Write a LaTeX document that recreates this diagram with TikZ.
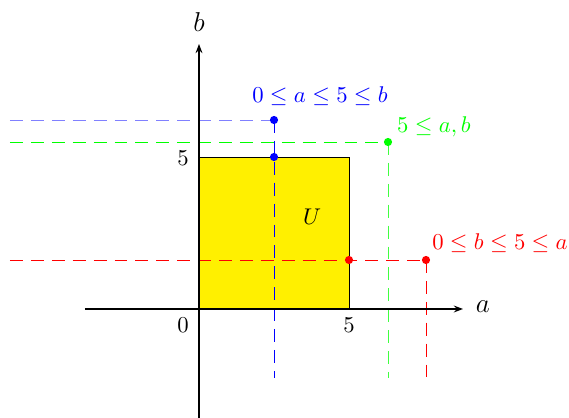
\documentclass[tikz,border=0pt]{standalone}
\usetikzlibrary{arrows.meta}
\definecolor{uyellow}{RGB}{255,240,0}
\tikzset{
  px/.style={x=0.44pt,y=-0.44pt},
  guide/.style={line width=0.4pt,dash pattern=on 5.7pt off 3.5pt},
  axis/.style={line width=0.8pt,-{Stealth[length=4pt,width=3pt]}},
  dot/.style={circle,inner sep=0pt,minimum size=3.6pt},
  lbl/.style={inner sep=1pt}
}
\begin{document}
\begin{tikzpicture}[px]
\useasboundingbox (0,0) rectangle (569,418);
% key points
\coordinate (O) at (199,309);
\coordinate (R) at (349,157);
\coordinate (Bt) at (274,120);
\coordinate (Bm) at (274,157);
\coordinate (Bb) at (274,378);
\coordinate (Bl) at (10,120);
\coordinate (Gt) at (388,142);
\coordinate (Gb) at (388,378);
\coordinate (Gl) at (10,142);
\coordinate (Rt) at (426,260);
\coordinate (Rm) at (349,260);
\coordinate (Rb) at (426,378);
\coordinate (Rl) at (10,260);
\coordinate (xs) at (85,309);
\coordinate (xe) at (463,309);
\coordinate (ys) at (199,418);
\coordinate (ye) at (199,44);
% square
\draw[fill=uyellow,draw=black,line width=0.4pt] (O) rectangle (R);
% guide lines
\draw[guide,blue!50] (Bl) -- (Bt);
\draw[guide,blue] (Bt) -- (Bb);
\draw[guide,green] (Gl) -- (Gt);
\draw[guide,green!75!white] (Gt) -- (Gb);
\draw[guide,red] (Rl) -- (Rt);
\draw[guide,red] (Rt) -- (Rb);
% axes
\draw[axis] (xs) -- (xe);
\draw[axis] (ys) -- (ye);
% dots
\node[dot,fill=blue] (dBt) at (Bt) {};
\node[dot,fill=blue] (dBm) at (Bm) {};
\node[dot,fill=green] (dGt) at (Gt) {};
\node[dot,fill=red] (dRt) at (Rt) {};
\node[dot,fill=red] (dRm) at (Rm) {};
% labels
\node[lbl,font=\large] (lb) at (199,22) {$b$};
\node[lbl,font=\large] (la) at (483,307) {$a$};
\node[lbl] (l0) at (183,325) {$0$};
\node[lbl] (l5x) at (349,325) {$5$};
\node[lbl] (l5y) at (183,158) {$5$};
\node[lbl] (lU) at (312,217) {$U$};
\node[lbl,text=blue] (lblue) at (320,96) {$0\le a\le 5\le b$};
\node[lbl,text=green] (lgreen) at (434,127) {$5\le a, b$};
\node[lbl,text=red] (lred) at (500,243) {$0\le b\le 5\le a$};
\end{tikzpicture}
\end{document}
